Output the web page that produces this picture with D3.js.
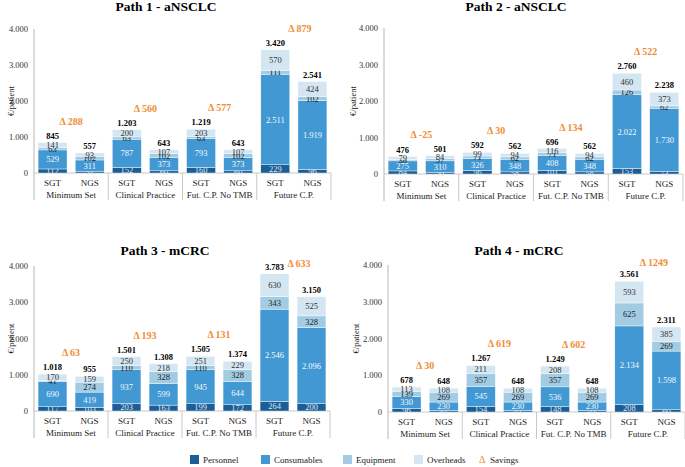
<!DOCTYPE html>
<html>
<head>
<meta charset="utf-8">
<script src="https://cdn.jsdelivr.net/npm/d3@7"></script>
<style>
  body { margin: 0; background: #fff; }
  svg, svg text { font-family: "Liberation Serif", "DejaVu Serif", serif; }
</style>
</head>
<body>
<script>
// categories and bars
const categories = ["Minimum Set", "Clinical Practice", "Fut. C.P. No TMB", "Future C.P."];
const arms = ["SGT", "NGS"];
const components = ["Personnel", "Consumables", "Equipment", "Overheads"];
const titles = ["Path 1 - aNSCLC", "Path 2 - aNSCLC", "Path 3 - mCRC", "Path 4 - mCRC"];

// one row per path, order: SGT/NGS for each category
const personnel = [
  [112, 51, 152, 60, 160, 60, 229, 96],
  [84, 50, 96, 58, 101, 58, 153, 73],
  [117, 103, 203, 163, 199, 172, 264, 200],
  [96, 41, 154, 41, 148, 41, 208, 60]
];
const consumables = [
  [529, 311, 787, 373, 793, 373, 2511, 1919],
  [275, 310, 326, 348, 408, 348, 2022, 1730],
  [690, 419, 937, 599, 945, 644, 2546, 2096],
  [330, 230, 545, 230, 536, 230, 2134, 1598]
];
const equipment = [
  [63, 102, 63, 102, 63, 102, 111, 102],
  [38, 57, 71, 62, 71, 62, 126, 62],
  [41, 274, 110, 328, 110, 328, 343, 328],
  [139, 269, 357, 269, 357, 269, 625, 269]
];
const overheads = [
  [141, 93, 200, 107, 203, 107, 570, 424],
  [79, 84, 99, 94, 116, 94, 460, 373],
  [170, 159, 250, 218, 251, 229, 630, 525],
  [113, 108, 211, 108, 208, 108, 593, 385]
];
const totals = [
  [845, 557, 1203, 643, 1219, 643, 3420, 2541],
  [476, 501, 592, 562, 696, 562, 2760, 2238],
  [1018, 955, 1501, 1308, 1505, 1374, 3783, 3150],
  [678, 648, 1267, 648, 1249, 648, 3561, 2311]
];
const savings = [
  [288, 560, 577, 879],
  [-25, 30, 134, 522],
  [63, 193, 131, 633],
  [30, 619, 602, 1249]
];
const yTicks = [0, 1000, 2000, 3000, 4000];

const colors = ["#1b5d96", "#4198d3", "#a2cce3", "#d4e6f1"];
const labelColors = ["#dfe8f2", "#f4f8fc", "#222", "#333"];
const orange = "#ef8d33";
const grey = "#c8c8c8";
const FONT = "Liberation Serif";

const locale = d3.formatLocale({ decimal: ",", thousands: ".", grouping: [3], currency: ["", "€"] });
const fmt = locale.format(",d");

const W = 685, H = 467;
const svg = d3.select("body").append("svg").attr("width", W).attr("height", H)
  .attr("font-family", FONT);

const layout = [
  { left: 34, right: 331, base: 173, top: 29, titleX: 166, titleY: 11, labX: 14 },
  { left: 384, right: 683, base: 174, top: 28, titleX: 516, titleY: 11, labX: 356 },
  { left: 34, right: 330, base: 411, top: 266, titleX: 165, titleY: 255, labX: 14 },
  { left: 388, right: 685, base: 412, top: 265, titleX: 519, titleY: 255, labX: 359 }
];

titles.forEach((title, p) => {
  const L = layout[p];
  const g = svg.append("g");
  const bars = d3.range(categories.length * arms.length);

  const x = d3.scaleBand().domain(bars).range([L.left, L.right])
    .paddingInner(0.22).paddingOuter(0.11);
  const y = d3.scaleLinear().domain([0, 4000]).range([L.base, L.top]);
  const groupW = (L.right - L.left) / categories.length;
  const bottom = L.base + 27;

  // title
  g.append("text").attr("x", L.titleX).attr("y", L.titleY)
    .attr("text-anchor", "middle").attr("font-size", 13.5).attr("font-weight", "bold")
    .text(title);

  // y axis
  const ax = g.append("g").attr("transform", `translate(${L.left},0)`)
    .call(d3.axisLeft(y).tickValues(yTicks).tickSize(0).tickPadding(6).tickFormat(fmt));
  ax.attr("font-family", FONT).attr("font-size", 8.5);
  ax.select(".domain").remove();
  ax.selectAll("text").attr("fill", "#333");

  g.append("text")
    .attr("transform", `translate(${L.labX},${(L.top + L.base) / 2}) rotate(-90)`)
    .attr("text-anchor", "middle").attr("font-size", 8.5).attr("fill", "#222")
    .text("€/patient");

  // axis lines
  g.append("line").attr("x1", L.left).attr("x2", L.left).attr("y1", L.top).attr("y2", bottom)
    .attr("stroke", grey).attr("stroke-width", 1.3);
  g.append("line").attr("x1", L.left).attr("x2", L.right).attr("y1", L.base).attr("y2", L.base)
    .attr("stroke", grey).attr("stroke-width", 1);
  d3.range(1, categories.length + 1).forEach(k => {
    const xx = L.left + k * groupW;
    g.append("line").attr("x1", xx).attr("x2", xx).attr("y1", L.base).attr("y2", bottom)
      .attr("stroke", grey).attr("stroke-width", 1);
  });

  // stacked bars
  const series = [personnel[p], consumables[p], equipment[p], overheads[p]];
  const rows = bars.map(i => {
    const r = { i };
    components.forEach((c, k) => r[c] = series[k][i]);
    return r;
  });
  const stacked = d3.stack().keys(components)(rows);

  stacked.forEach((layer, k) => {
    g.append("g").selectAll("rect").data(layer).join("rect")
      .attr("x", d => x(d.data.i))
      .attr("width", x.bandwidth())
      .attr("y", d => y(d[1]))
      .attr("height", d => y(d[0]) - y(d[1]))
      .attr("fill", colors[k])
      .attr("stroke", "#fff").attr("stroke-width", 0.4);

    g.append("g").selectAll("text").data(layer).join("text")
      .attr("x", d => x(d.data.i) + x.bandwidth() / 2)
      .attr("y", d => (y(d[0]) + y(d[1])) / 2 + 3)
      .attr("text-anchor", "middle").attr("font-size", 8.5)
      .attr("fill", labelColors[k])
      .text(d => fmt(d.data[components[k]]));
  });

  // totals
  g.append("g").selectAll("text").data(bars).join("text")
    .attr("x", i => x(i) + x.bandwidth() / 2)
    .attr("y", i => y(d3.sum(series, s => s[i])) - 4)
    .attr("text-anchor", "middle").attr("font-size", 8.5).attr("font-weight", "bold")
    .text(i => fmt(totals[p][i]));

  // arm + category labels
  g.append("g").selectAll("text").data(bars).join("text")
    .attr("x", i => x(i) + x.bandwidth() / 2)
    .attr("y", L.base + 13)
    .attr("text-anchor", "middle").attr("font-size", 9).attr("fill", "#222")
    .text(i => arms[i % 2]);
  g.append("g").selectAll("text").data(categories).join("text")
    .attr("x", (c, k) => L.left + (k + 0.5) * groupW)
    .attr("y", L.base + 25)
    .attr("text-anchor", "middle").attr("font-size", 9).attr("fill", "#222")
    .text(c => c);

  // savings
  savings[p].forEach((s, k) => {
    const top = Math.min(y(totals[p][2 * k]), y(totals[p][2 * k + 1]));
    let cy = top - 22, cx = L.left + (k + 0.5) * groupW;
    if (cy < L.top) { cy = Math.max(cy, L.top - 3); cx += 6; }
    g.append("text").attr("x", cx).attr("y", cy + 4)
      .attr("text-anchor", "middle").attr("font-size", 10).attr("font-weight", "bold")
      .attr("fill", orange)
      .text("Δ " + s);
  });
});

// legend
const legend = svg.append("g").attr("transform", "translate(0,455)");
const legX = [190, 261, 343, 414];
components.forEach((c, k) => {
  legend.append("rect").attr("x", legX[k]).attr("y", 0).attr("width", 9).attr("height", 9).attr("fill", colors[k]);
  legend.append("text").attr("x", legX[k] + 13).attr("y", 8).attr("font-size", 9).attr("fill", "#222").text(c);
});
legend.append("text").attr("x", 479).attr("y", 8).attr("font-size", 10).attr("fill", orange).text("Δ");
legend.append("text").attr("x", 490).attr("y", 8).attr("font-size", 9).attr("fill", "#222").text("Savings");
</script>
</body>
</html>
